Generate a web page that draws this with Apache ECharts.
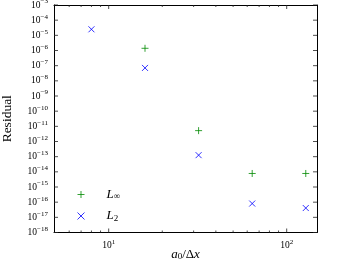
<!DOCTYPE html>
<html>
<head>
<meta charset="utf-8">
<script src="https://cdn.jsdelivr.net/npm/echarts@6/dist/echarts.min.js"></script>
<style>
  html, body { margin: 0; padding: 0; background: #ffffff; }
  #chart { width: 338px; height: 271px; }
</style>
</head>
<body>
<div id="chart"></div>
<script>
// ---- data ----
const xValues = [8, 16, 32, 64, 128];
const lInfValues = [1.6e-3, 1.4e-6, 5.2e-12, 7.8e-15, 7.8e-15];
const l2Values = [2.5e-5, 7.1e-8, 1.26e-13, 8.1e-17, 4.1e-17];
const seriesNames = ['L∞', 'L2'];
const xMajorTicks = [10, 100];
const xMinorTicks = [6, 7, 8, 9, 20, 30, 40, 50, 60, 70, 80, 90];
const yTickExponents = [-18, -17, -16, -15, -14, -13, -12, -11, -10, -9, -8, -7, -6, -5, -4, -3];
const xLimits = [4.93, 148];
const yLimits = [1e-18, 1e-3];

const yTicks = yTickExponents.map(e => Math.pow(10, e));
const FONT = 'Liberation Serif';
const PLUS = 'path://M5,0L5,10M0,5L10,5';
const CROSS = 'path://M0,0L10,10M10,0L0,10';
const GREEN = '#008a00';
const BLUE = '#0000ff';

function powLabel(v) {
  const e = Math.round(Math.log10(v));
  return '{b|10}{e|' + String(e).replace('-', '\u2212') + '}';
}
const richPow = {
  b: { fontFamily: FONT, fontSize: 9.5, color: '#000' },
  e: { fontFamily: FONT, fontSize: 7, color: '#000', padding: [0, 0, 7, 0] }
};
function lineOn() { return { show: true, lineStyle: { color: '#000', width: 1 } }; }
function off() { return { show: false }; }

const xAxes = [
  {
    type: 'log', position: 'bottom',
    min: xLimits[0], max: xLimits[1],
    axisLine: lineOn(), axisTick: off(),
    axisLabel: { show: true, customValues: xMajorTicks, formatter: powLabel, rich: richPow, margin: 6 },
    splitLine: off(), minorTick: off(),
    name: '{i|a}{s|0}{n|/Δ}{i|x}', nameLocation: 'middle', nameGap: 15, nameMoveOverlap: false,
    nameTextStyle: {
      rich: {
        i: { fontFamily: FONT, fontStyle: 'italic', fontSize: 13, color: '#000' },
        n: { fontFamily: FONT, fontSize: 13, color: '#000' },
        s: { fontFamily: FONT, fontSize: 9, color: '#000', padding: [5, 0, 0, 0] }
      }
    }
  },
  {
    type: 'log', position: 'top',
    min: xLimits[0], max: xLimits[1],
    axisLine: lineOn(), axisTick: off(), axisLabel: off(), splitLine: off(), minorTick: off()
  }
];

const yAxes = [
  {
    type: 'log', position: 'left',
    min: yLimits[0], max: yLimits[1],
    axisLine: lineOn(), axisTick: off(),
    axisLabel: { show: true, customValues: yTicks, formatter: powLabel, rich: richPow, margin: 6 },
    splitLine: off(), minorTick: off(),
    name: 'Residual', nameLocation: 'middle', nameGap: 40, nameRotate: 90, nameMoveOverlap: false,
    nameTextStyle: { fontFamily: FONT, fontSize: 13.5, color: '#000' }
  },
  {
    type: 'log', position: 'right',
    min: yLimits[0], max: yLimits[1],
    axisLine: lineOn(), axisTick: off(), axisLabel: off(), splitLine: off(), minorTick: off()
  }
];

// inward tick marks, placed through the axes' own scales at the tick values
function tickSeries(data, size, offset) {
  return {
    type: 'scatter', xAxisIndex: 0, yAxisIndex: 0, silent: true, clip: false,
    symbol: 'rect', symbolSize: size, symbolOffset: offset,
    itemStyle: { color: '#222' }, z: 1,
    data: data
  };
}

const chart = echarts.init(document.getElementById('chart'), null, { renderer: 'canvas' });
chart.setOption({
  animation: false,
  backgroundColor: '#ffffff',
  grid: { left: 54, right: 21, top: 5, bottom: 38.5, containLabel: false, outerBoundsMode: 'none' },
  xAxis: xAxes,
  yAxis: yAxes,
  tooltip: { show: false },
  legend: {
    orient: 'vertical', left: 72, top: 183, itemWidth: 41, itemHeight: 7, itemGap: 8,
    data: [
      { name: seriesNames[0], icon: PLUS, itemStyle: { color: 'rgba(0,0,0,0)', borderColor: GREEN, borderWidth: 1 } },
      { name: seriesNames[1], icon: CROSS, itemStyle: { color: 'rgba(0,0,0,0)', borderColor: BLUE, borderWidth: 1 } }
    ],
    formatter: function (n) {
      return n === 'L∞' ? '{i|L}{s|∞}' : '{i|L}{s|2}';
    },
    textStyle: {
      rich: {
        i: { fontFamily: FONT, fontStyle: 'italic', fontSize: 13, color: '#000', lineHeight: 15 },
        s: { fontFamily: FONT, fontSize: 9, color: '#000', padding: [5, 0, 0, 0] }
      }
    }
  },
  series: [
    {
      name: seriesNames[0], type: 'scatter', xAxisIndex: 0, yAxisIndex: 0,
      symbol: PLUS, symbolSize: 7, clip: true, z: 3,
      itemStyle: { color: 'rgba(0,0,0,0)', borderColor: GREEN, borderWidth: 1 },
      data: xValues.map((x, i) => [x, lInfValues[i]])
    },
    {
      name: seriesNames[1], type: 'scatter', xAxisIndex: 0, yAxisIndex: 0,
      symbol: CROSS, symbolSize: 6, clip: true, z: 3,
      itemStyle: { color: 'rgba(0,0,0,0)', borderColor: BLUE, borderWidth: 1 },
      data: xValues.map((x, i) => [x, l2Values[i]])
    },
    tickSeries(xMajorTicks.map(x => [x, yLimits[0]]), [1, 4], [0, -2]),
    tickSeries(xMinorTicks.map(x => [x, yLimits[0]]), [1, 2], [0, -1]),
    tickSeries(xMajorTicks.map(x => [x, yLimits[1]]), [1, 4], [0, 2]),
    tickSeries(xMinorTicks.map(x => [x, yLimits[1]]), [1, 2], [0, 1]),
    tickSeries(yTicks.map(y => [xLimits[0], y]), [4, 1], [2, 0]),
    tickSeries(yTicks.map(y => [xLimits[1], y]), [4, 1], [-2, 0])
  ]
});
</script>
</body>
</html>
